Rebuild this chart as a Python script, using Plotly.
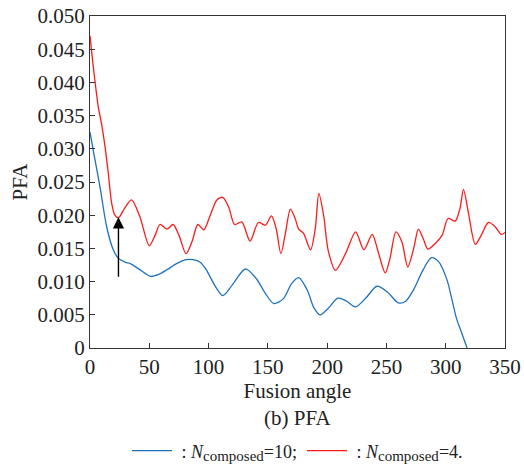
import plotly.graph_objects as go

# Blue: N_composed = 10
x_blue = [0, 3, 8.4, 14, 19.6, 24, 30, 34, 42, 51, 58, 65, 73, 81, 87, 93, 98, 105, 112, 120, 131, 140, 148, 155, 163, 170, 176, 183, 189, 194, 201, 209, 216, 224, 233, 242, 251, 260, 266, 273, 281, 288, 294, 301, 305, 309, 314, 318]
y_blue = [0.0325, 0.0295, 0.0243, 0.0183, 0.0148, 0.0135, 0.0129, 0.0127, 0.0118, 0.0108, 0.0111, 0.0118, 0.0127, 0.0133, 0.0133, 0.0129, 0.0118, 0.0095, 0.0079, 0.0095, 0.0119, 0.0105, 0.0082, 0.0067, 0.0074, 0.0097, 0.0106, 0.0088, 0.0060, 0.0050, 0.0060, 0.0075, 0.0071, 0.0062, 0.0076, 0.0093, 0.0084, 0.0068, 0.0070, 0.0088, 0.0118, 0.0136, 0.0130, 0.0103, 0.0075, 0.0045, 0.0020, 0.0000]

# Red: N_composed = 4
x_red = [0, 3, 7, 10, 12.7, 15.5, 18.3, 21, 24, 29, 35, 42, 50, 55, 59, 65, 70, 75, 81, 86, 91, 96, 101, 107, 112, 117, 122, 128, 135, 142, 148, 153, 157, 161, 165, 169, 173, 176, 180, 186, 190, 193, 197, 201, 207, 216, 224, 231, 238, 243, 249, 253, 258, 263, 268, 273, 277, 281, 285, 292, 297, 302, 308, 312, 315, 319, 325, 330, 336, 342, 347, 350]
y_red = [0.0470, 0.0420, 0.0363, 0.0335, 0.0303, 0.0262, 0.0218, 0.0200, 0.0196, 0.0210, 0.0223, 0.0198, 0.0154, 0.0170, 0.0186, 0.0179, 0.0186, 0.0170, 0.0142, 0.0160, 0.0186, 0.0178, 0.0198, 0.0223, 0.0227, 0.0212, 0.0186, 0.0190, 0.0161, 0.0189, 0.0185, 0.0199, 0.0180, 0.0142, 0.0175, 0.0209, 0.0195, 0.0179, 0.0173, 0.0148, 0.0180, 0.0233, 0.0200, 0.0146, 0.0117, 0.0144, 0.0175, 0.0148, 0.0171, 0.0145, 0.0113, 0.0135, 0.0175, 0.0160, 0.0122, 0.0150, 0.0179, 0.0165, 0.0149, 0.0159, 0.0170, 0.0195, 0.0191, 0.0210, 0.0239, 0.0205, 0.0156, 0.0170, 0.0189, 0.0182, 0.0171, 0.0174]

x_ticks = [0, 50, 100, 150, 200, 250, 300, 350]
y_ticks = [0, 0.005, 0.010, 0.015, 0.020, 0.025, 0.030, 0.035, 0.040, 0.045, 0.050]
y_tick_labels = ["0", "0.005", "0.010", "0.015", "0.020", "0.025", "0.030", "0.035", "0.040", "0.045", "0.050"]

arrow_x = 24
arrow_y0 = 0.0105
arrow_y1 = 0.0197

FONT = "Liberation Serif"
TXT = "#222222"
SUB = '<sub><span style="font-size:15px">composed</span></sub>'

fig = go.Figure()
fig.add_trace(go.Scatter(x=x_blue, y=y_blue, mode="lines",
                         line=dict(color="#1f72bd", width=1.3, shape="spline", smoothing=0.8),
                         name=" : <i>N</i>" + SUB + "=10;"))
fig.add_trace(go.Scatter(x=x_red, y=y_red, mode="lines",
                         line=dict(color="#ff1a1a", width=1.3, shape="spline", smoothing=0.8),
                         name=" : <i>N</i>" + SUB + "=4."))

fig.add_annotation(x=arrow_x, y=arrow_y1, ax=arrow_x, ay=arrow_y0,
                   xref="x", yref="y", axref="x", ayref="y",
                   showarrow=True, arrowhead=2, arrowsize=1.6, arrowwidth=1.4,
                   arrowcolor="black", text="")

fig.add_annotation(text="(b) PFA", x=0.5, xref="paper", y=-0.21, yref="paper",
                   yanchor="middle", showarrow=False,
                   font=dict(family=FONT, size=21, color=TXT))

fig.update_layout(
    width=524, height=466,
    margin=dict(l=90, r=19, t=16, b=118, autoexpand=False),
    paper_bgcolor="white", plot_bgcolor="white",
    font=dict(family=FONT, size=21, color=TXT),
    showlegend=True,
    legend=dict(orientation="h", x=0.5, xanchor="center", y=-0.31, yanchor="middle",
                font=dict(family=FONT, size=18, color=TXT), itemwidth=40,
                tracegroupgap=0),
)
fig.update_xaxes(range=[0, 350], tickvals=x_ticks, ticks="inside", ticklen=5,
                 tickcolor="#333", showline=True, linecolor="#333", linewidth=1.3,
                 mirror=True, showgrid=False, zeroline=False, automargin=False,
                 title=dict(text="Fusion angle", standoff=0, font=dict(size=21)),
                 tickfont=dict(size=21))
fig.update_yaxes(range=[0, 0.050], tickvals=y_ticks, ticktext=y_tick_labels,
                 ticks="inside", ticklen=5, tickcolor="#333", showline=True,
                 linecolor="#333", linewidth=1.3, mirror=True, showgrid=False,
                 zeroline=False, automargin=False,
                 title=dict(text="PFA", standoff=4, font=dict(size=21)),
                 tickfont=dict(size=21))

# remove the page's default 8px body margin so the figure sits at the window origin
fig.write_html("out.html", config={"displayModeBar": False},
               post_script="document.body.style.margin='0px';")
